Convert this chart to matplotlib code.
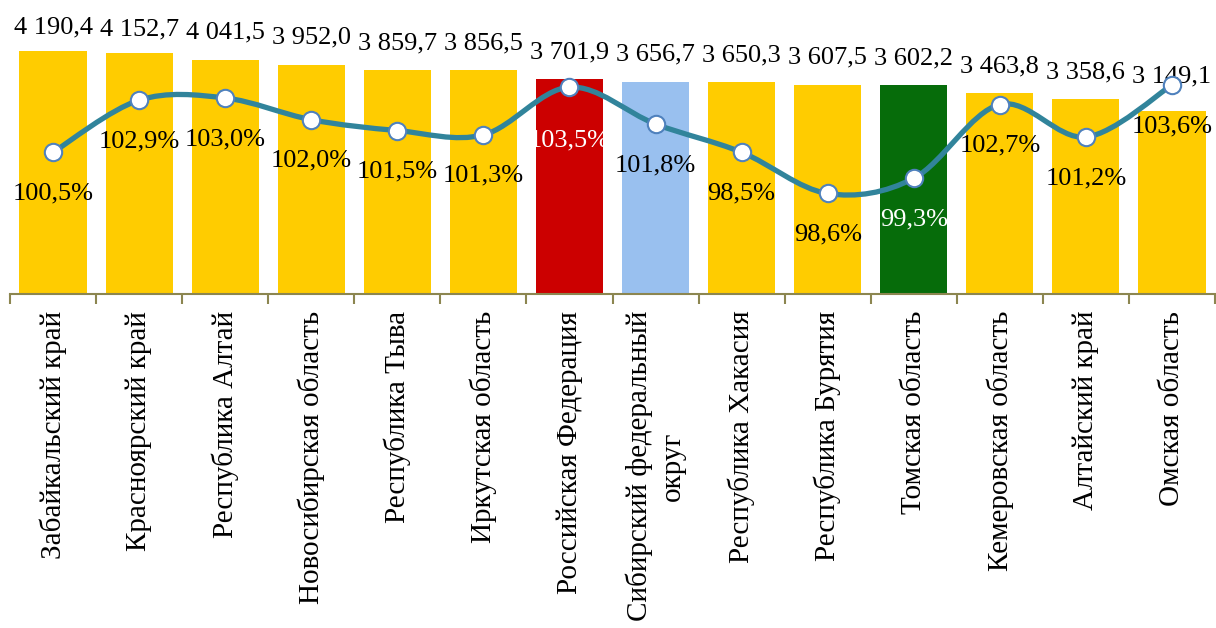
import matplotlib
matplotlib.use("Agg")
import matplotlib.pyplot as plt
from matplotlib.path import Path
from matplotlib.patches import PathPatch
import numpy as np

plt.rcParams['font.family'] = ['Liberation Serif', 'DejaVu Serif']

categories = ["Забайкальский край", "Красноярский край", "Республика Алтай",
              "Новосибирская область", "Республика Тыва", "Иркутская область",
              "Российская Федерация", "Сибирский федеральный\nокруг",
              "Республика Хакасия", "Республика Бурятия", "Томская область",
              "Кемеровская область", "Алтайский край", "Омская область"]
values = [4190.4, 4152.7, 4041.5, 3952.0, 3859.7, 3856.5, 3701.9, 3656.7,
          3650.3, 3607.5, 3602.2, 3463.8, 3358.6, 3149.1]
value_labels = ["4 190,4", "4 152,7", "4 041,5", "3 952,0", "3 859,7", "3 856,5",
                "3 701,9", "3 656,7", "3 650,3", "3 607,5", "3 602,2", "3 463,8",
                "3 358,6", "3 149,1"]
growth = [100.5, 102.9, 103.0, 102.0, 101.5, 101.3, 103.5, 101.8, 100.5, 98.6,
          99.3, 102.7, 101.2, 103.6]
growth_labels = ["100,5%", "102,9%", "103,0%", "102,0%", "101,5%", "101,3%",
                 "103,5%", "101,8%", "98,5%", "98,6%", "99,3%", "102,7%",
                 "101,2%", "103,6%"]

YELLOW = "#FFCC00"
bar_colors = [YELLOW] * 14
bar_colors[6] = "#CC0000"
bar_colors[7] = "#99C0EF"
bar_colors[10] = "#066C0A"
pct_colors = ["black"] * 14
pct_colors[6] = "white"
pct_colors[10] = "white"
AXIS_C = "#8C8650"

fig = plt.figure(figsize=(12.16, 6.28), dpi=100)
ax = fig.add_axes([10/1216, 1 - 294/628, 1205/1216, 290/628])
x = np.arange(len(categories))
ax.bar(x, values, width=0.78, color=bar_colors, zorder=2)
ax.set_xlim(-0.5, len(categories) - 0.5)
ax.set_ylim(0, 5000)
for s in ["top", "right", "left"]:
    ax.spines[s].set_visible(False)
ax.spines["bottom"].set_color(AXIS_C)
ax.spines["bottom"].set_linewidth(1.5)
ax.set_yticks([])
ax.set_xticks(x)
ax.set_xticklabels(categories, rotation=90, fontsize=21, va="top", ha="center",
                   multialignment="center", linespacing=1.35)
ax.tick_params(axis="x", which="major", length=0, pad=12)
ax.set_xticks(np.arange(-0.5, len(categories)), minor=True)
ax.tick_params(axis="x", which="minor", length=7, width=1.5, color=AXIS_C)

val_off = [27] * 14
val_off[0] = 24
val_off[1] = 24
val_off[13] = 35
for xi, v, lab, off in zip(x, values, value_labels, val_off):
    ax.annotate(lab, (xi, v), xytext=(0, off * 0.72), textcoords="offset points",
                ha="center", va="center", fontsize=19, zorder=5)

ax2 = ax.twinx()
ax2.set_ylim(93.97, 107.33)
ax2.axis("off")

# Smoothed line (Catmull-Rom -> cubic Bezier, like Excel smoothing)
pts = np.column_stack([x, growth]).astype(float)
verts = [tuple(pts[0])]
codes = [Path.MOVETO]
n = len(pts)
for i in range(n - 1):
    p0 = pts[i - 1] if i > 0 else pts[i]
    p1 = pts[i]
    p2 = pts[i + 1]
    p3 = pts[i + 2] if i + 2 < n else pts[i + 1]
    c1 = p1 + (p2 - p0) / 6.0
    c2 = p2 - (p3 - p1) / 6.0
    verts += [tuple(c1), tuple(c2), tuple(p2)]
    codes += [Path.CURVE4] * 3
ax2.add_patch(PathPatch(Path(verts, codes), facecolor="none", edgecolor="#31849B",
                        linewidth=3.8, zorder=3, capstyle="round"))
ax2.plot(x, growth, linestyle="none", marker="o", markersize=12.5,
         markerfacecolor="white", markeredgecolor="#4F81BD", markeredgewidth=1.5,
         zorder=4)

pct_off = [41] * 14
pct_off[6] = 53
for xi, g, lab, c, off in zip(x, growth, growth_labels, pct_colors, pct_off):
    ax2.annotate(lab, (xi, g), xytext=(0, -off * 0.72), textcoords="offset points",
                 ha="center", va="center", fontsize=19, color=c, zorder=6)

fig.savefig("out.png", dpi=100)
